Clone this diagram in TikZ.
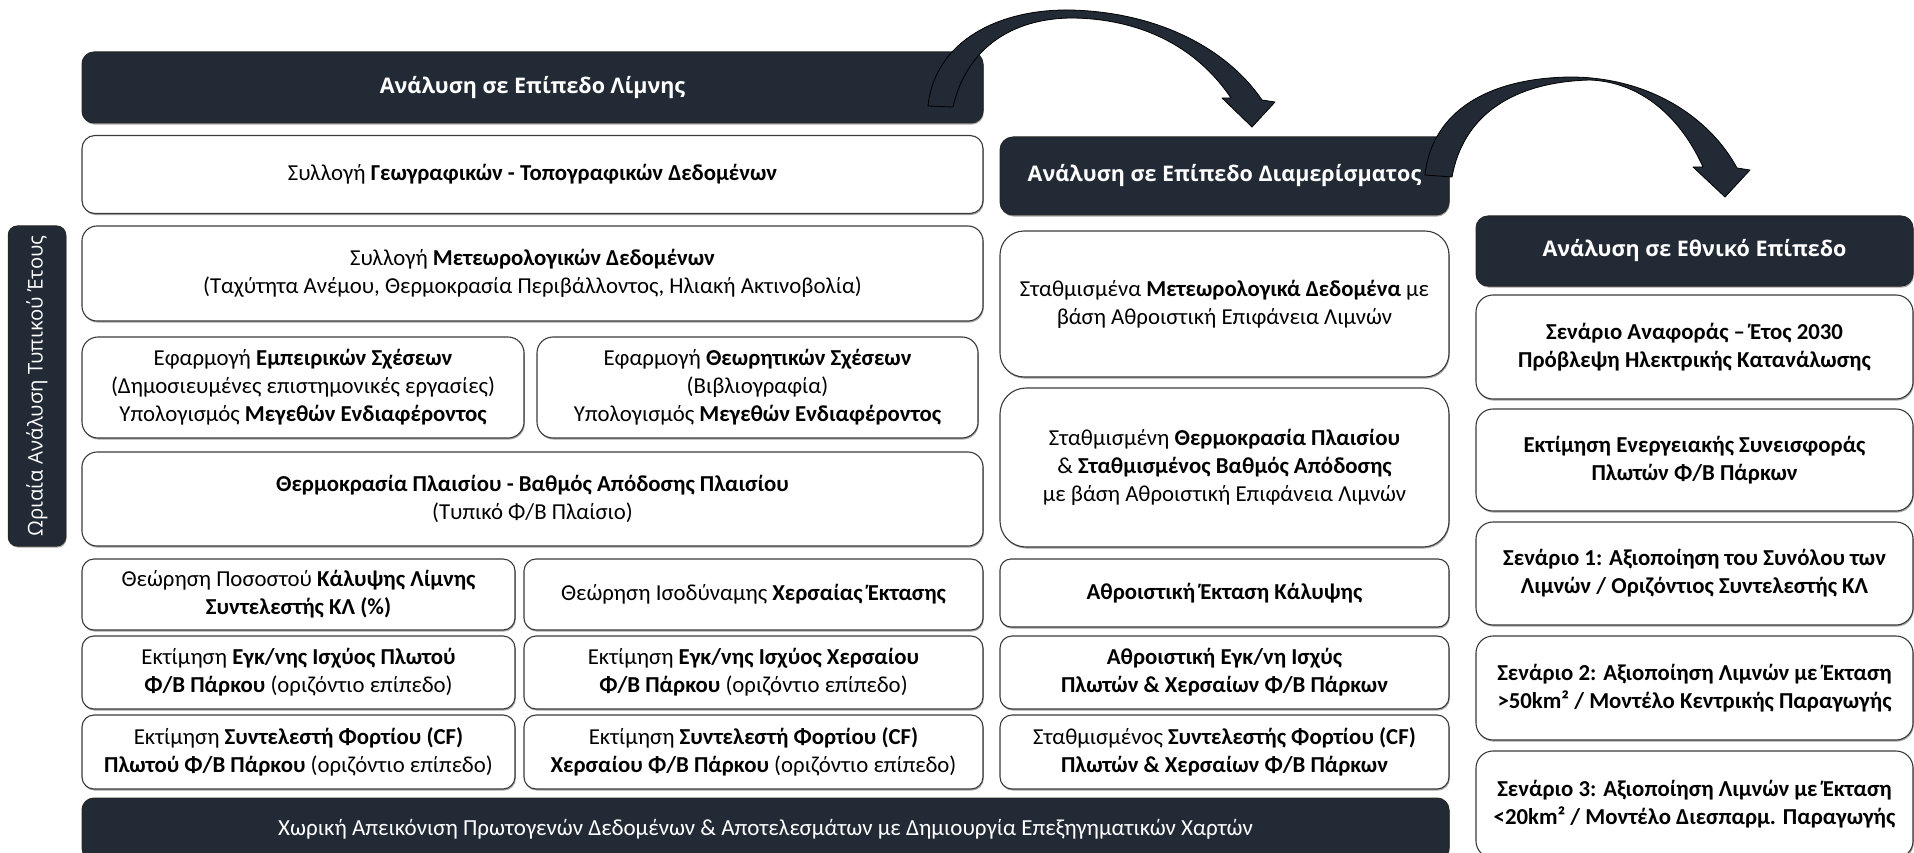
\documentclass[tikz,border=0pt]{standalone}
\usepackage{fontspec}
\setmainfont{Carlito}
\newfontfamily\hdfont{Open Sans}
\usetikzlibrary{shadows}
\definecolor{navy}{HTML}{222A35}
\definecolor{bord}{HTML}{3A3A3A}
\begin{document}
\begin{tikzpicture}[x=1pt,y=-1pt,
  shad/.style={drop shadow={shadow xshift=0.8pt, shadow yshift=-1.6pt, opacity=0.35, fill=black}},
  wbox/.style={shad, draw=bord, line width=1.1pt, fill=white, align=center, inner sep=0pt, text=black, font=\fontsize{22.8}{28}\selectfont},
  dbox/.style={shad, draw=black!85, line width=1pt, fill=navy, align=center, inner sep=0pt, text=white, font=\hdfont\bfseries\fontsize{21.5}{26}\selectfont},
  sbox/.style={dbox, font=\hdfont\fontsize{20.3}{24}\selectfont},
  bbar/.style={dbox, font=\fontsize{23}{28}\selectfont},
  rbox/.style={wbox, font=\bfseries\fontsize{22.8}{28}\selectfont},
  barrow/.style={fill=navy, draw=black, line width=0.8pt, line join=round}
]
\useasboundingbox (0,0) rectangle (1914,853);
\clip (0,0) rectangle (1914,853);

% ---------- left column ----------
\node[dbox, minimum width=901pt, minimum height=71pt, rounded corners=12pt] (lh) at (532.5,87.5) {Ανάλυση σε Επίπεδο Λίμνης};
\node[wbox, minimum width=901pt, minimum height=78pt, rounded corners=13pt] (b1) at (532.5,174.5) {Συλλογή \textbf{Γεωγραφικών - Τοπογραφικών Δεδομένων}};
\node[wbox, minimum width=901pt, minimum height=95pt, rounded corners=15pt] (b2) at (532.5,273.5) {Συλλογή \textbf{Μετεωρολογικών Δεδομένων}\\(Ταχύτητα Ανέμου, Θερμοκρασία Περιβάλλοντος, Ηλιακή Ακτινοβολία)};
\node[wbox, minimum width=442pt, minimum height=101pt, rounded corners=16pt] (b3a) at (303,387.5) {Εφαρμογή \textbf{Εμπειρικών Σχέσεων}\\(Δημοσιευμένες επιστημονικές εργασίες)\\Υπολογισμός \textbf{Μεγεθών Ενδιαφέροντος}};
\node[wbox, minimum width=441pt, minimum height=101pt, rounded corners=16pt] (b3b) at (757.5,387.5) {Εφαρμογή \textbf{Θεωρητικών Σχέσεων}\\(Βιβλιογραφία)\\Υπολογισμός \textbf{Μεγεθών Ενδιαφέροντος}};
\node[wbox, minimum width=901pt, minimum height=94pt, rounded corners=15pt] (b4) at (532.5,499) {\textbf{Θερμοκρασία Πλαισίου - Βαθμός Απόδοσης Πλαισίου}\\(Τυπικό Φ/Β Πλαίσιο)};
\node[wbox, minimum width=433pt, minimum height=71pt, rounded corners=12pt] (b5a) at (298.5,594.5) {Θεώρηση Ποσοστού \textbf{Κάλυψης Λίμνης}\\\textbf{Συντελεστής ΚΛ (\%)}};
\node[wbox, minimum width=459pt, minimum height=71pt, rounded corners=12pt] (b5b) at (753.5,594.5) {Θεώρηση Ισοδύναμης \textbf{Χερσαίας Έκτασης}};
\node[wbox, minimum width=433pt, minimum height=73pt, rounded corners=12pt] (b6a) at (298.5,672.5) {Εκτίμηση \textbf{Εγκ/νης Ισχύος Πλωτού}\\\textbf{Φ/Β Πάρκου} (οριζόντιο επίπεδο)};
\node[wbox, minimum width=459pt, minimum height=73pt, rounded corners=12pt] (b6b) at (753.5,672.5) {Εκτίμηση \textbf{Εγκ/νης Ισχύος Χερσαίου}\\\textbf{Φ/Β Πάρκου} (οριζόντιο επίπεδο)};
\node[wbox, minimum width=433pt, minimum height=74pt, rounded corners=12pt] (b7a) at (298.5,752) {Εκτίμηση \textbf{Συντελεστή Φορτίου (CF)}\\\textbf{Πλωτού Φ/Β Πάρκου} (οριζόντιο επίπεδο)};
\node[wbox, minimum width=459pt, minimum height=74pt, rounded corners=12pt] (b7b) at (753.5,752) {Εκτίμηση \textbf{Συντελεστή Φορτίου (CF)}\\\textbf{Χερσαίου Φ/Β Πάρκου} (οριζόντιο επίπεδο)};
\node[bbar, minimum width=1367pt, minimum height=62pt, rounded corners=12pt] (bot) at (765.5,829) {Χωρική Απεικόνιση Πρωτογενών Δεδομένων \& Αποτελεσμάτων με Δημιουργία Επεξηγηματικών Χαρτών};

% ---------- side label ----------
\node[sbox, rotate=90, minimum width=320pt, minimum height=57.5pt, rounded corners=9pt] (side) at (37,386) {Ωριαία Ανάλυση Τυπικού Έτους};

% ---------- middle column ----------
\node[dbox, minimum width=449pt, minimum height=78pt, rounded corners=13pt] (mh) at (1224.5,176) {Ανάλυση σε Επίπεδο Διαμερίσματος};
\node[wbox, minimum width=449pt, minimum height=146pt, rounded corners=24pt] (m1) at (1224.5,304) {Σταθμισμένα \textbf{Μετεωρολογικά Δεδομένα} με\\βάση Αθροιστική Επιφάνεια Λιμνών};
\node[wbox, minimum width=449pt, minimum height=159pt, rounded corners=26pt] (m2) at (1224.5,467.5) {Σταθμισμένη \textbf{Θερμοκρασία Πλαισίου}\\\& \textbf{Σταθμισμένος Βαθμός Απόδοσης}\\με βάση Αθροιστική Επιφάνεια Λιμνών};
\node[wbox, minimum width=449pt, minimum height=68pt, rounded corners=11pt] (m3) at (1224.5,593) {\textbf{Αθροιστική Έκταση Κάλυψης}};
\node[wbox, minimum width=449pt, minimum height=73pt, rounded corners=12pt] (m4) at (1224.5,672.5) {\textbf{Αθροιστική Εγκ/νη Ισχύς}\\\textbf{Πλωτών \& Χερσαίων Φ/Β Πάρκων}};
\node[wbox, minimum width=449pt, minimum height=74pt, rounded corners=12pt] (m5) at (1224.5,752) {Σταθμισμένος \textbf{Συντελεστής Φορτίου (CF)}\\\textbf{Πλωτών \& Χερσαίων Φ/Β Πάρκων}};

% ---------- right column ----------
\node[dbox, minimum width=437pt, minimum height=70pt, rounded corners=12pt] (rh) at (1694.5,251) {Ανάλυση σε Εθνικό Επίπεδο};
\node[rbox, minimum width=437pt, minimum height=104pt, rounded corners=17pt] (r1) at (1694.5,347) {Σενάριο Αναφοράς – Έτος 2030\\Πρόβλεψη Ηλεκτρικής Κατανάλωσης};
\node[rbox, minimum width=437pt, minimum height=102pt, rounded corners=17pt] (r2) at (1694.5,460) {Εκτίμηση Ενεργειακής Συνεισφοράς\\Πλωτών Φ/Β Πάρκων};
\node[rbox, minimum width=437pt, minimum height=103pt, rounded corners=17pt] (r3) at (1694.5,573.5) {Σενάριο 1: Αξιοποίηση του Συνόλου των\\Λιμνών / Οριζόντιος Συντελεστής ΚΛ};
\node[rbox, minimum width=437pt, minimum height=104pt, rounded corners=17pt] (r4) at (1694.5,688) {Σενάριο 2: Αξιοποίηση Λιμνών με Έκταση\\>50km² / Μοντέλο Κεντρικής Παραγωγής};
\node[rbox, minimum width=437pt, minimum height=107pt, rounded corners=17pt] (r5) at (1694.5,804.5) {Σενάριο 3: Αξιοποίηση Λιμνών με Έκταση\\<20km² / Μοντέλο Διεσπαρμ. Παραγωγής};

% ---------- curved block arrows ----------
\draw[barrow] (928,106) .. controls (935,40) and (1000,9) .. (1070,10)
  .. controls (1160,12) and (1228,50) .. (1262,100)
  -- (1275,102) -- (1252,127) -- (1222,98) -- (1231,98)
  .. controls (1196,46) and (1140,19) .. (1073,18)
  .. controls (1010,18) and (966,50) .. (953,107) -- cycle;
\draw[barrow] (1425,175) .. controls (1432,110) and (1490,78) .. (1570,77)
  .. controls (1650,77) and (1710,118) .. (1737,168)
  -- (1750,170) -- (1725,197) -- (1693,167) -- (1703,167)
  .. controls (1680,116) and (1640,82) .. (1590,80)
  .. controls (1512,82) and (1463,116) .. (1452,177) -- cycle;
\end{tikzpicture}
\end{document}
